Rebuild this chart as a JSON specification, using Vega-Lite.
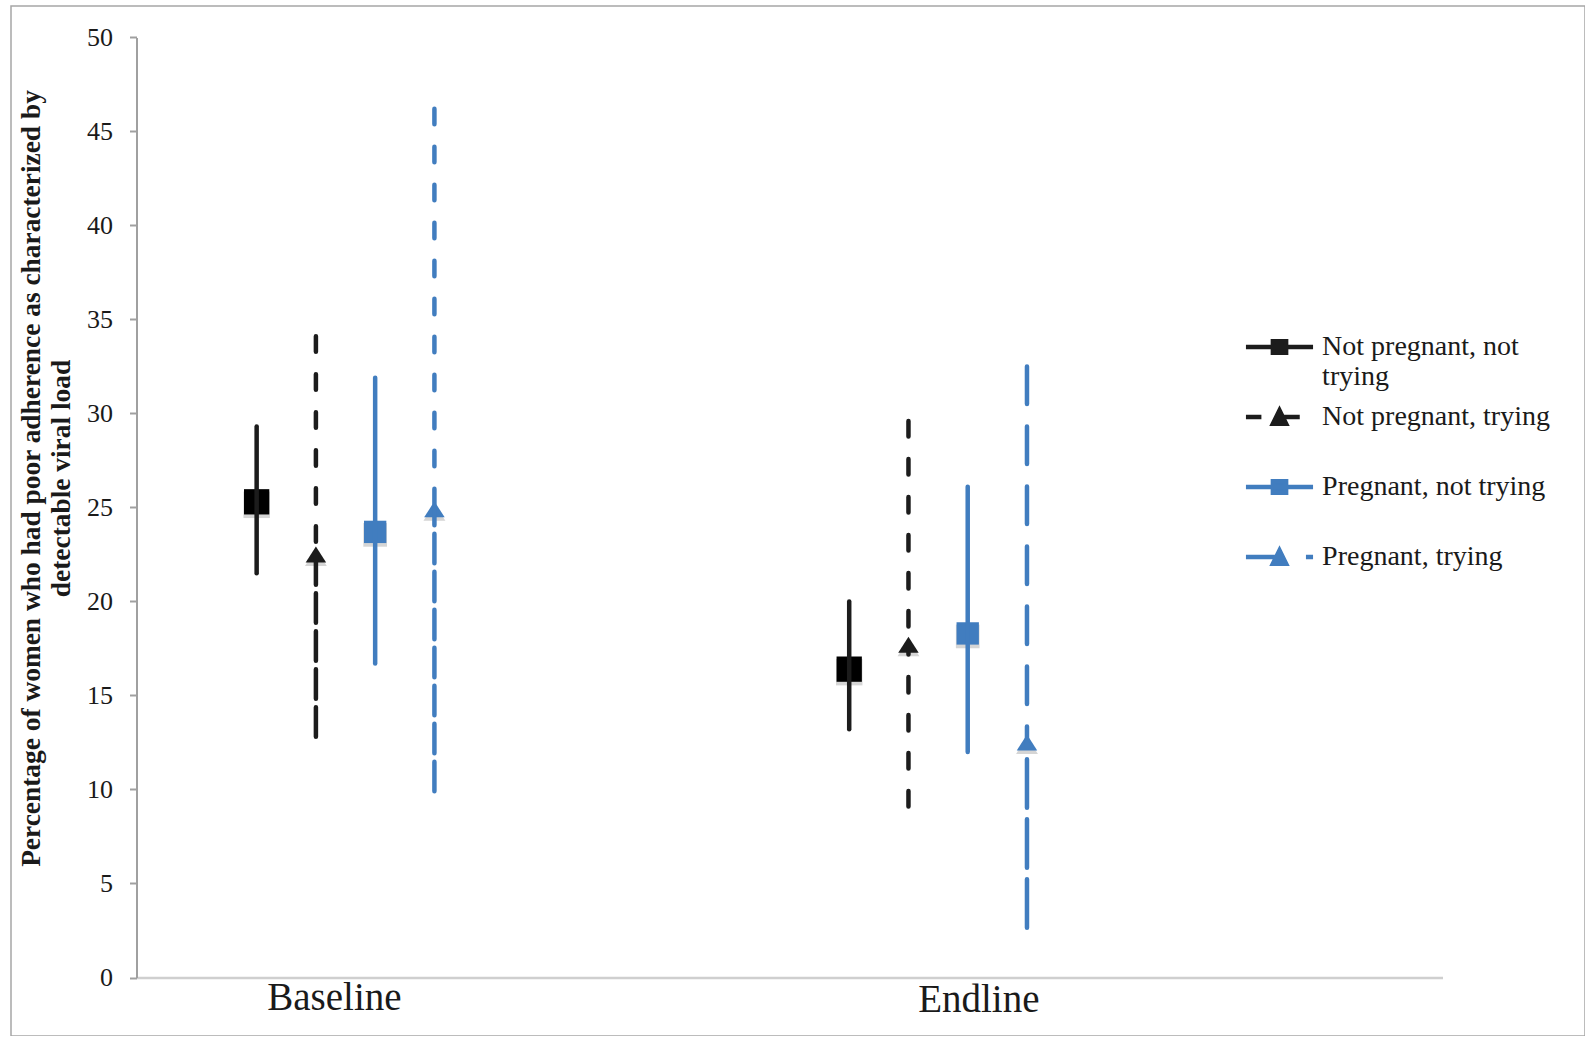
{
  "$schema": "https://vega.github.io/schema/vega-lite/v6.json",
  "autosize": "none",
  "width": 1574,
  "height": 1030,
  "padding": {"left": 11, "top": 6, "right": 0, "bottom": 0},
  "background": "white",
  "data": {
    "values": [
      {"Group": "Baseline", "Series": "Not pregnant, not trying", "Estimate": 25.3, "Lower": 21.5, "Upper": 29.3},
      {"Group": "Baseline", "Series": "Not pregnant, trying", "Estimate": 22.5, "Lower": 12.8, "Upper": 34.1},
      {"Group": "Baseline", "Series": "Pregnant, not trying", "Estimate": 23.7, "Lower": 16.7, "Upper": 31.9},
      {"Group": "Baseline", "Series": "Pregnant, trying", "Estimate": 24.9, "Lower": 9.9, "Upper": 46.2},
      {"Group": "Endline", "Series": "Not pregnant, not trying", "Estimate": 16.4, "Lower": 13.2, "Upper": 20.0},
      {"Group": "Endline", "Series": "Not pregnant, trying", "Estimate": 17.7, "Lower": 9.1, "Upper": 29.6},
      {"Group": "Endline", "Series": "Pregnant, not trying", "Estimate": 18.3, "Lower": 12.0, "Upper": 26.1},
      {"Group": "Endline", "Series": "Pregnant, trying", "Estimate": 12.5, "Lower": 2.65, "Upper": 32.5}
    ]
  },
  "encoding": {
    "x": {
      "field": "Group", "type": "nominal",
      "scale": {"range": [125.5, 1431.5], "paddingInner": 0.6, "paddingOuter": 0.402, "align": 0.19},
      "axis": {
        "orient": "bottom", "offset": -58.5, "title": null,
        "domainColor": "#cfcfcf", "domainWidth": 2.5, "ticks": false, "labels": false
      }
    },
    "xOffset": {
      "field": "Series", "type": "nominal",
      "scale": {"domain": ["Not pregnant, not trying", "Not pregnant, trying", "Pregnant, not trying", "Pregnant, trying"], "paddingInner": 0, "paddingOuter": 0}
    },
    "y": {
      "type": "quantitative",
      "scale": {"domain": [0, 50], "range": [971.5, 31.4], "nice": false},
      "axis": {
        "orient": "left", "offset": -125.5, "grid": false,
        "values": [0, 5, 10, 15, 20, 25, 30, 35, 40, 45, 50],
        "domainColor": "#a0a0a0", "domainWidth": 2,
        "tickColor": "#a0a0a0", "tickWidth": 2, "tickSize": 7,
        "labelFont": "Liberation Serif", "labelFontSize": 26, "labelColor": "#1a1a1a", "labelPadding": 17,
        "title": ["Percentage of women who had poor adherence as characterized by", "detectable viral load"],
        "titleFont": "Liberation Serif", "titleFontWeight": "bold", "titleFontSize": 27.4,
        "titleColor": "#1a1a1a", "titleLineHeight": 30.6, "titleBaseline": "alphabetic",
        "titleAngle": -90, "titleAlign": "center", "titleX": -97.5, "titleY": 472
      }
    },
    "color": {
      "field": "Series", "type": "nominal", "legend": null,
      "scale": {"domain": ["Pregnant, trying", "Pregnant, not trying", "Not pregnant, trying", "Not pregnant, not trying"], "range": ["#417dbf", "#417dbf", "#1c1c1c", "#1c1c1c"]}
    }
  },
  "layer": [
    {
      "transform": [{"filter": "datum.Series === 'Not pregnant, not trying'"}],
      "mark": {"type": "point", "shape": "square", "filled": true, "opacity": 0.22, "size": 700, "xOffset": 2, "yOffset": 3},
      "encoding": {"y": {"field": "Estimate"}, "color": {"value": "#404040"}}
    },
    {
      "transform": [{"filter": "datum.Series === 'Pregnant, not trying'"}],
      "mark": {"type": "point", "shape": "square", "filled": true, "opacity": 0.22, "size": 560, "xOffset": 2, "yOffset": 3},
      "encoding": {"y": {"field": "Estimate"}, "color": {"value": "#404040"}}
    },
    {
      "transform": [{"filter": "datum.Series === 'Not pregnant, trying' || datum.Series === 'Pregnant, trying'"}],
      "mark": {"type": "point", "shape": "M-1,0.78L0,-0.78L1,0.78Z", "filled": true, "opacity": 0.22, "size": 480, "xOffset": 2, "yOffset": 3},
      "encoding": {"y": {"field": "Estimate"}, "color": {"value": "#404040"}}
    },
    {
      "transform": [{"filter": "datum.Series === 'Not pregnant, not trying'"}],
      "mark": {"type": "point", "shape": "square", "filled": true, "opacity": 1, "size": 640},
      "encoding": {"y": {"field": "Estimate"}, "color": {"value": "#000000"}}
    },
    {
      "transform": [{"filter": "datum.Series === 'Pregnant, not trying'"}],
      "mark": {"type": "point", "shape": "square", "filled": true, "opacity": 1, "size": 500},
      "encoding": {"y": {"field": "Estimate"}}
    },
    {
      "transform": [{"filter": "datum.Series === 'Not pregnant, trying' || datum.Series === 'Pregnant, trying'"}],
      "mark": {"type": "point", "shape": "M-1,0.78L0,-0.78L1,0.78Z", "filled": true, "opacity": 1, "size": 420},
      "encoding": {"y": {"field": "Estimate"}}
    },
    {
      "transform": [{"filter": "datum.Series === 'Not pregnant, not trying' || datum.Series === 'Pregnant, not trying'"}],
      "mark": {"type": "rule", "strokeWidth": 4.5, "strokeCap": "round"},
      "encoding": {"y": {"field": "Lower"}, "y2": {"field": "Upper"}}
    },
    {
      "transform": [{"filter": "datum.Series === 'Not pregnant, trying' || (datum.Series === 'Pregnant, trying' && datum.Group === 'Baseline')"}],
      "mark": {"type": "rule", "strokeWidth": 4.5, "strokeCap": "round", "strokeDash": [15.5, 22.5]},
      "encoding": {"y": {"field": "Upper"}, "y2": {"field": "Estimate"}}
    },
    {
      "transform": [{"filter": "datum.Series === 'Pregnant, trying' && datum.Group === 'Endline'"}],
      "mark": {"type": "rule", "strokeWidth": 4.5, "strokeCap": "round", "strokeDash": [37.5, 22.5]},
      "encoding": {"y": {"field": "Upper"}, "y2": {"field": "Estimate"}}
    },
    {
      "transform": [{"filter": "(datum.Series === 'Not pregnant, trying' || datum.Series === 'Pregnant, trying') && datum.Group === 'Baseline'"}],
      "mark": {"type": "rule", "strokeWidth": 4.5, "strokeCap": "round", "strokeDash": [29.5, 8.5]},
      "encoding": {"y": {"field": "Lower"}, "y2": {"field": "Estimate"}}
    },
    {
      "transform": [{"filter": "datum.Series === 'Not pregnant, trying' && datum.Group === 'Endline'"}],
      "mark": {"type": "rule", "strokeWidth": 4.5, "strokeCap": "round", "strokeDash": [15.5, 22.5]},
      "encoding": {"y": {"field": "Lower"}, "y2": {"field": "Estimate"}}
    },
    {
      "transform": [{"filter": "datum.Series === 'Pregnant, trying' && datum.Group === 'Endline'"}],
      "mark": {"type": "rule", "strokeWidth": 4.5, "strokeCap": "round", "strokeDash": [48.5, 11.5]},
      "encoding": {"y": {"field": "Lower"}, "y2": {"field": "Estimate"}}
    },
    {
      "transform": [{"filter": "datum.Series === 'Not pregnant, not trying' && datum.Group === 'Baseline'"}],
      "mark": {"type": "text", "font": "Liberation Serif", "fontSize": 39, "align": "center", "baseline": "alphabetic", "dx": 77.75, "dy": 32},
      "encoding": {"y": {"datum": 0, "type": "quantitative"}, "text": {"field": "Group"}, "color": {"value": "#1a1a1a"}}
    },
    {
      "transform": [{"filter": "datum.Series === 'Not pregnant, not trying' && datum.Group === 'Endline'"}],
      "mark": {"type": "text", "font": "Liberation Serif", "fontSize": 39, "align": "center", "baseline": "alphabetic", "dx": 129.65, "dy": 34},
      "encoding": {"y": {"datum": 0, "type": "quantitative"}, "text": {"field": "Group"}, "color": {"value": "#1a1a1a"}}
    },
    {
      "transform": [{"filter": "false"}],
      "mark": {"type": "point", "filled": true, "opacity": 1},
      "encoding": {
        "y": {"field": "Estimate"},
        "shape": {
          "field": "Series", "type": "nominal",
          "scale": {
            "domain": ["Not pregnant, not trying", "Not pregnant, trying", "Pregnant, not trying", "Pregnant, trying"],
            "range": [
              "M-3.355,0L3.355,0M-0.66,-0.568L0.66,-0.568L0.66,0.568L-0.66,0.568Z",
              "M-3.355,0L-1.81,0M-0.355,0L2.024,0M-0.66,0.675L0,-0.675L0.66,0.675Z",
              "M-3.355,0L3.355,0M-0.66,-0.568L0.66,-0.568L0.66,0.568L-0.66,0.568Z",
              "M-3.355,0L0.355,0M2.645,0L3.355,0M-0.66,0.675L0,-0.675L0.66,0.675Z"
            ]
          },
          "legend": {
            "orient": "none", "legendX": 1229, "legendY": 327, "title": null, "padding": 0,
            "symbolSize": 400, "symbolOffset": 25.5, "symbolStrokeWidth": 4.5, "symbolOpacity": 1,
            "labelFont": "Liberation Serif", "labelFontSize": 28, "labelColor": "#1a1a1a",
            "labelOffset": 28.6, "labelLimit": 400, "rowPadding": 10, "gridAlign": "all",
            "labelExpr": "datum.value === 'Not pregnant, not trying' ? ['Not pregnant, not', 'trying'] : datum.label",
            "encode": {
              "symbols": {"update": {"strokeCap": {"value": "round"}, "strokeJoin": {"value": "round"}, "opacity": {"value": 1}}},
              "labels": {"update": {"lineHeight": {"value": 31}, "dy": {"signal": "datum.value === 'Not pregnant, not trying' ? 15.5 : 0"}}}
            }
          }
        },
        "fill": {
          "field": "Series", "type": "nominal",
          "scale": {"domain": ["Not pregnant, not trying", "Not pregnant, trying", "Pregnant, not trying", "Pregnant, trying"], "range": ["#1c1c1c", "#1c1c1c", "#417dbf", "#417dbf"]}
        },
        "stroke": {
          "field": "Series", "type": "nominal",
          "scale": {"domain": ["Not pregnant, not trying", "Not pregnant, trying", "Pregnant, not trying", "Pregnant, trying"], "range": ["#1c1c1c", "#1c1c1c", "#417dbf", "#417dbf"]}
        }
      }
    }
  ],
  "config": {
    "view": {"stroke": "#a6a6a6", "strokeWidth": 1.5}
  }
}
